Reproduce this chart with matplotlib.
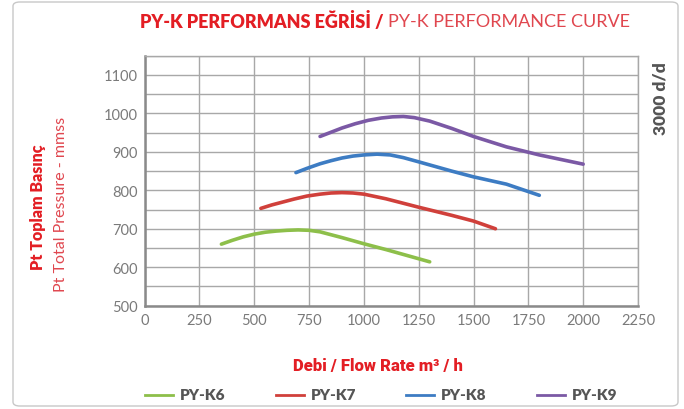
import matplotlib
matplotlib.use("Agg")
import matplotlib.pyplot as plt
from matplotlib.patches import FancyBboxPatch

plt.rcParams['font.family'] = ['Lato', 'DejaVu Sans']

# ---- data ----
series_names = ["PY-K6", "PY-K7", "PY-K8", "PY-K9"]
k6_x = [350, 400, 450, 500, 550, 600, 650, 700, 750, 800, 900, 1000, 1100, 1200, 1300]
k6_y = [660, 670, 679, 686, 691, 694, 696, 697, 696, 692, 677, 661, 646, 630, 614]
k7_x = [530, 580, 620, 680, 740, 800, 850, 900, 950, 1000, 1100, 1250, 1400, 1500, 1600]
k7_y = [753, 762, 768, 777, 785, 790, 793, 794, 793, 790, 778, 756, 735, 720, 700]
k8_x = [690, 740, 800, 850, 900, 950, 1000, 1060, 1120, 1180, 1250, 1400, 1500, 1650, 1800]
k8_y = [846, 857, 869, 877, 884, 889, 892, 894, 892, 885, 874, 850, 835, 816, 787]
k9_x = [800, 850, 900, 960, 1020, 1080, 1130, 1180, 1230, 1300, 1400, 1500, 1650, 1800, 2000]
k9_y = [940, 951, 962, 973, 982, 988, 991, 992, 989, 980, 961, 940, 913, 892, 868]
x_ticks = [0, 250, 500, 750, 1000, 1250, 1500, 1750, 2000, 2250]
y_ticks = [500, 600, 700, 800, 900, 1000, 1100]

colors = ["#8dbf4a", "#d0403b", "#3d7cc3", "#7b59a5"]

fig = plt.figure(figsize=(6.84, 4.10), dpi=100)
ax = fig.add_axes([0.2115, 0.252, 0.7212, 0.6097])

for xs, ys, c in zip([k6_x, k7_x, k8_x, k9_x], [k6_y, k7_y, k8_y, k9_y], colors):
    ax.plot(xs, ys, color=c, lw=2.6, solid_capstyle='round', solid_joinstyle='round')

ax.set_xlim(0, 2250)
ax.set_ylim(500, 1150)
ax.set_xticks(x_ticks)
ax.set_yticks(y_ticks)
ax.set_yticks(range(550, 1151, 100), minor=True)
ax.grid(True, which='both', color='#a8a8a8', lw=1.0)
ax.tick_params(length=0, labelsize=10.5, labelcolor='#7a7a7a', pad=5)
ax.tick_params(which='minor', length=0)
for s in ['top', 'right']:
    ax.spines[s].set_color('#a8a8a8')
    ax.spines[s].set_linewidth(1.0)
for s in ['left', 'bottom']:
    ax.spines[s].set_color('#8a8a8a')
    ax.spines[s].set_linewidth(1.8)
ax.set_axisbelow(True)

# frame
fig.patches.append(FancyBboxPatch((13/684, 3/410), 665/684, 404/410,
                                  boxstyle="round,pad=0,rounding_size=0.01",
                                  transform=fig.transFigure, fill=False,
                                  ec='#c8c8c8', lw=1.0))

# title
fig.text(0.5675, 0.947, "PY-K PERFORMANS EĞRİSİ / ", color='#e31e24', fontsize=13,
         fontweight='heavy', ha='right', va='center')
fig.text(0.5675, 0.947, "PY-K PERFORMANCE CURVE", color='#e0474f', fontsize=13,
         fontweight='normal', ha='left', va='center')

# y labels
fig.text(38/684, 1 - 207/410, "Pt Toplam Basınç", color='#e31e24', fontsize=11.5,
         fontweight='heavy', rotation=90, ha='center', va='center')
fig.text(61/684, 1 - 204/410, "Pt Total Pressure - mmss", color='#e0474f', fontsize=11.5,
         fontweight='normal', rotation=90, ha='center', va='center')

# right label
fig.text(660/684, 1 - 99/410, "3000 d/d", color='#555555', fontsize=12.5,
         fontweight='heavy', rotation=90, ha='center', va='center')

# x label
fig.text(378/684, 1 - 366/410, "Debi / Flow Rate m³ / h", color='#e31e24', fontsize=12,
         fontweight='heavy', ha='center', va='center', family=['Roboto', 'DejaVu Sans'])

# legend
leg_x = [145, 276, 406, 537]
for lx, name, c in zip(leg_x, series_names, colors):
    fig.lines.append(plt.Line2D([lx/684, (lx+28)/684], [1-396/410, 1-396/410],
                                transform=fig.transFigure, color=c, lw=2.0))
    fig.text((lx+35)/684, 1-396/410, name, color='#555555', fontsize=11,
             fontweight='heavy', ha='left', va='center')

fig.savefig("out.png", dpi=100)
